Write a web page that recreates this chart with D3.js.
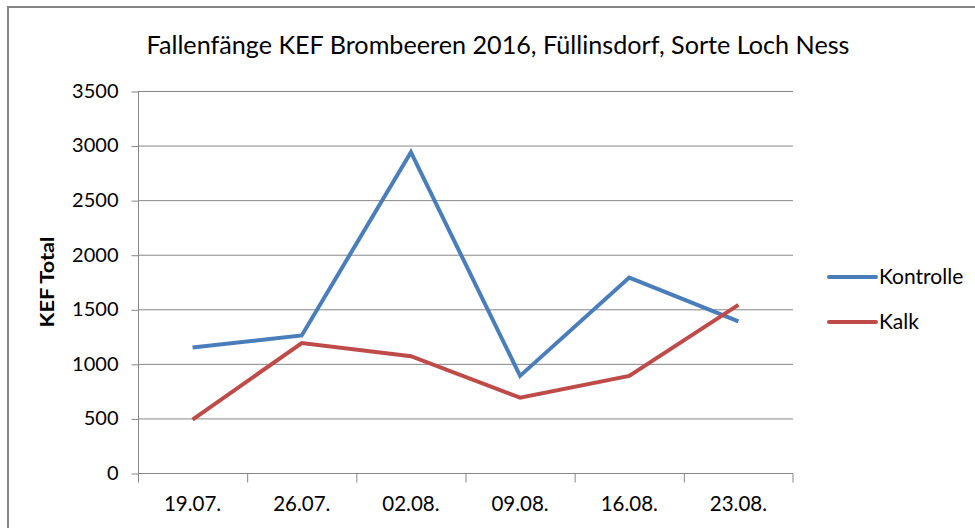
<!DOCTYPE html>
<html><head><meta charset="utf-8">
<script src="https://cdn.jsdelivr.net/npm/d3@7"></script>
<style>body{margin:0;background:#fff}svg{display:block}text{font-family:Lato,"Open Sans",sans-serif;fill:#000}</style>
</head><body><svg id="c" width="975" height="528"></svg>
<script>
const categories = ["19.07.","26.07.","02.08.","09.08.","16.08.","23.08."];
const kontrolle = [1150,1260,2940,890,1790,1390];
const kalk = [490,1190,1070,690,890,1540];
const yTicks = [0,500,1000,1500,2000,2500,3000,3500];
const seriesNames = ["Kontrolle","Kalk"];
const colors = ["#4a7ebb","#be4b48"];

const svg = d3.select("#c");
const L=138,R=793,T=91,B=473;
const x = d3.scaleBand().domain(categories).range([L,R]);
const y = d3.scaleLinear().domain([0,3500]).range([B,T]);

svg.append("path").attr("d","M8,528V7H975").attr("fill","none").attr("stroke","#868686").attr("stroke-width",2);

svg.append("text").attr("x",498).attr("y",54).attr("text-anchor","middle").attr("font-size",24.5)
 .attr("textLength",703).attr("lengthAdjust","spacingAndGlyphs")
 .text("Fallenfänge KEF Brombeeren 2016, Füllinsdorf, Sorte Loch Ness");

svg.append("g").selectAll("line").data(yTicks.filter(d=>d>0)).join("line")
 .attr("x1",L).attr("x2",R).attr("y1",d=>y(d)+0.5).attr("y2",d=>y(d)+0.5).attr("stroke","#868686").attr("stroke-width",1);

const ya = svg.append("g").attr("transform",`translate(${L+0.5},0)`).call(d3.axisLeft(y).tickValues(yTicks).tickSize(7).tickPadding(13).tickFormat(d3.format("d")));
ya.select(".domain").attr("stroke","#868686").attr("d",`M0,${T}V${B}`);
ya.selectAll(".tick line").attr("stroke","#868686").attr("transform","translate(0,0.5)");
ya.selectAll("text").attr("font-size",20).attr("font-family","Lato,sans-serif").attr("fill","#000");

const xa = svg.append("g").attr("transform",`translate(0,${B+0.5})`).call(d3.axisBottom(x).tickSize(0).tickPadding(23));
xa.select(".domain").attr("stroke","#868686").attr("d",`M${L},0H${R}V9`);
xa.selectAll("text").attr("font-size",20.5).attr("font-family","Lato,sans-serif").attr("fill","#000");
xa.append("g").selectAll("line").data(categories).join("line")
 .attr("x1",d=>x(d)+0.5).attr("x2",d=>x(d)+0.5).attr("y1",0).attr("y2",9).attr("stroke","#868686");

svg.append("text").attr("transform","translate(54,282) rotate(-90)").attr("text-anchor","middle").attr("font-size",19).attr("font-weight","bold")
 .attr("textLength",91).attr("lengthAdjust","spacingAndGlyphs").text("KEF Total");

const line = d3.line().x((d,i)=>x(categories[i])+x.bandwidth()/2).y(d=>y(d));
[kontrolle,kalk].forEach((s,i)=>{
  svg.append("path").attr("d",line(s)).attr("fill","none").attr("stroke",colors[i]).attr("stroke-width",4).attr("stroke-linejoin","miter");
});

const lg = svg.append("g");
seriesNames.forEach((n,i)=>{
  const yy = 277 + i*45;
  lg.append("line").attr("x1",829).attr("x2",876).attr("y1",yy).attr("y2",yy).attr("stroke",colors[i]).attr("stroke-width",4).attr("stroke-linecap","round");
  lg.append("text").attr("x",879).attr("y",yy+7).attr("font-size",21).text(n);
});
</script></body></html>
